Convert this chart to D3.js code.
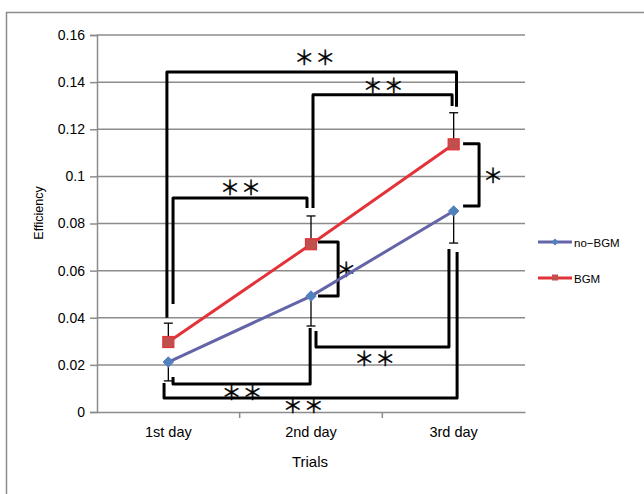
<!DOCTYPE html>
<html>
<head>
<meta charset="utf-8">
<script src="https://cdn.jsdelivr.net/npm/d3@7"></script>
<style>
  body { margin: 0; background: #fff; }
  svg { display: block; }
  text { font-family: "Liberation Sans", Arial, sans-serif; fill: #000; }
  .star { font-family: "Noto Sans CJK JP", sans-serif; }
</style>
</head>
<body>
<div id="chart"></div>
<script>
const days = ['1st day', '2nd day', '3rd day'];
const noBgm = [0.0212, 0.0492, 0.0853];
const bgm = [0.0297, 0.0712, 0.1136];
// one-sided error bars: no-BGM downward, BGM upward
const noBgmErr = [0.008, 0.0127, 0.0136];
const bgmErr = [0.008, 0.0120, 0.0134];
const yTicks = [0, 0.02, 0.04, 0.06, 0.08, 0.1, 0.12, 0.14, 0.16];

// significance brackets: points as [category position, value]
const brackets = [
  {label: '＊＊', at: [1.03, 0.151], pts: [[-0.01, 0.040], [-0.01, 0.1443], [2.02, 0.1443], [2.02, 0.1295]]},
  {label: '＊＊', at: [0.51, 0.0955], pts: [[0.033, 0.0458], [0.033, 0.0908], [0.972, 0.0908], [0.972, 0.0866]]},
  {label: '＊＊', at: [1.51, 0.139], pts: [[1.014, 0.0866], [1.014, 0.1346], [1.989, 0.1346], [1.989, 0.1299]]},
  {label: '＊', at: [2.28, 0.1006], pts: [[2.066, 0.1138], [2.178, 0.1138], [2.178, 0.0874], [2.066, 0.0874]]},
  {label: '＊', at: [1.25, 0.0611], pts: [[1.049, 0.0722], [1.19, 0.0722], [1.19, 0.0492], [1.049, 0.0492]]},
  {label: '＊＊', at: [0.52, 0.0085], pts: [[0.033, 0.0149], [0.033, 0.0119], [0.994, 0.0119], [0.994, 0.0357]]},
  {label: '＊＊', at: [1.45, 0.0233], pts: [[1.035, 0.0344], [1.035, 0.0276], [1.967, 0.0276], [1.967, 0.0692]]},
  {label: '＊＊', at: [0.95, 0.0030], pts: [[-0.03, 0.0123], [-0.03, 0.0059], [2.024, 0.0059], [2.024, 0.0679]]}
];

const width = 644, height = 494;
const plotLeft = 97, plotRight = 525, plotTop = 35, plotBottom = 412;

const svg = d3.select('#chart').append('svg')
  .attr('width', width).attr('height', height);

// outer frame
svg.append('rect')
  .attr('x', 6.5).attr('y', 12.5)
  .attr('width', 700).attr('height', 600)
  .attr('fill', 'none').attr('stroke', '#8c8c8c').attr('stroke-width', 1.5);

const xBand = d3.scaleBand().domain(days).range([plotLeft, plotRight]);
const xPos = d3.scaleLinear().domain([-0.5, 2.5]).range([plotLeft, plotRight]);
const y = d3.scaleLinear().domain([0, 0.16]).range([plotBottom, plotTop]);

// gridlines
svg.append('g').selectAll('line')
  .data(yTicks.filter(d => d > 0))
  .enter().append('line')
  .attr('x1', plotLeft).attr('x2', plotRight)
  .attr('y1', d => y(d)).attr('y2', d => y(d))
  .attr('stroke', '#8c8c8c').attr('stroke-width', 1.5);

// y axis
const yAxis = svg.append('g')
  .attr('transform', `translate(${plotLeft},0)`)
  .call(d3.axisLeft(y).tickValues(yTicks).tickFormat(d => String(+d.toFixed(2))).tickSize(7).tickPadding(5));
yAxis.select('.domain').attr('stroke', '#8c8c8c').attr('stroke-width', 1.5);
yAxis.selectAll('.tick line').attr('stroke', '#8c8c8c').attr('stroke-width', 1.5);
yAxis.selectAll('.tick text').style('font-size', '14px').attr('fill', '#000');

// x axis
const xAxis = svg.append('g')
  .attr('transform', `translate(0,${plotBottom})`)
  .call(d3.axisBottom(xBand).tickSize(0).tickPadding(15));
xAxis.select('.domain').attr('stroke', '#8c8c8c').attr('stroke-width', 1.5);
xAxis.selectAll('.tick text').style('font-size', '14.5px').attr('fill', '#000');
svg.append('g').selectAll('line')
  .data([1, 2])
  .enter().append('line')
  .attr('x1', d => xPos(d - 0.5)).attr('x2', d => xPos(d - 0.5))
  .attr('y1', plotBottom).attr('y2', plotBottom + 6)
  .attr('stroke', '#8c8c8c').attr('stroke-width', 1.5);

svg.append('text')
  .attr('x', 310).attr('y', 461)
  .attr('text-anchor', 'middle').attr('dominant-baseline', 'central')
  .style('font-size', '15px').text('Trials');
svg.append('text')
  .attr('transform', 'translate(39,213) rotate(-90)')
  .attr('text-anchor', 'middle').attr('dominant-baseline', 'central')
  .style('font-size', '12.5px').text('Efficiency');

// error bars
function errorBars(vals, errs, dir) {
  const g = svg.append('g');
  vals.forEach((v, i) => {
    const x = xPos(i);
    const end = y(v + dir * errs[i]);
    g.append('line').attr('x1', x).attr('x2', x).attr('y1', y(v)).attr('y2', end)
      .attr('stroke', '#000').attr('stroke-width', 1.3);
    g.append('line').attr('x1', x - 4.5).attr('x2', x + 4.5).attr('y1', end).attr('y2', end)
      .attr('stroke', '#000').attr('stroke-width', 1.3);
  });
}
errorBars(bgm, bgmErr, 1);
errorBars(noBgm, noBgmErr, -1);

// brackets
const bline = d3.line().x(d => xPos(d[0])).y(d => y(d[1]));
brackets.forEach(b => {
  svg.append('path')
    .attr('d', bline(b.pts))
    .attr('fill', 'none').attr('stroke', '#000').attr('stroke-width', 3)
    .attr('stroke-linejoin', 'round');
  svg.append('text')
    .attr('class', 'star')
    .attr('x', xPos(b.at[0])).attr('y', y(b.at[1]))
    .attr('text-anchor', 'middle').attr('dominant-baseline', 'central')
    .style('font-size', '20px').style('letter-spacing', '1px')
    .attr('stroke', '#000').attr('stroke-width', 0.4)
    .text(b.label);
});

// series lines
const line = d3.line().x((d, i) => xPos(i)).y(d => y(d));
svg.append('path').attr('d', line(noBgm))
  .attr('fill', 'none').attr('stroke', '#6464a8').attr('stroke-width', 3);
svg.append('path').attr('d', line(bgm))
  .attr('fill', 'none').attr('stroke', '#e4323a').attr('stroke-width', 3);

// markers
const diamond = d3.symbol().type(d3.symbolDiamond2).size(70);
svg.append('g').selectAll('path')
  .data(noBgm).enter().append('path')
  .attr('d', diamond)
  .attr('transform', (d, i) => `translate(${xPos(i)},${y(d)})`)
  .attr('fill', '#4f81bd').attr('stroke', '#5b7fc4').attr('stroke-width', 1);
svg.append('g').selectAll('rect')
  .data(bgm).enter().append('rect')
  .attr('x', (d, i) => xPos(i) - 5.5).attr('y', d => y(d) - 5.5)
  .attr('width', 11).attr('height', 11)
  .attr('fill', '#c0504d').attr('stroke', '#e4323a').attr('stroke-width', 1.2);

// legend
const legend = svg.append('g');
const legendItems = [
  {name: 'no\u2212BGM', color: '#6464a8', marker: 'diamond', yPos: 242},
  {name: 'BGM', color: '#e4323a', marker: 'square', yPos: 278}
];
legendItems.forEach(it => {
  legend.append('line').attr('x1', 538).attr('x2', 572)
    .attr('y1', it.yPos).attr('y2', it.yPos)
    .attr('stroke', it.color).attr('stroke-width', 3);
  if (it.marker === 'diamond') {
    legend.append('path').attr('d', d3.symbol().type(d3.symbolDiamond2).size(30))
      .attr('transform', `translate(555,${it.yPos})`).attr('fill', '#4f81bd');
  } else {
    legend.append('rect').attr('x', 552).attr('y', it.yPos - 3.5)
      .attr('width', 6).attr('height', 6).attr('fill', '#c0504d');
  }
  legend.append('text').attr('x', 574).attr('y', it.yPos + 1)
    .attr('dominant-baseline', 'central').style('font-size', '11.5px').text(it.name);
});
</script>
</body>
</html>
